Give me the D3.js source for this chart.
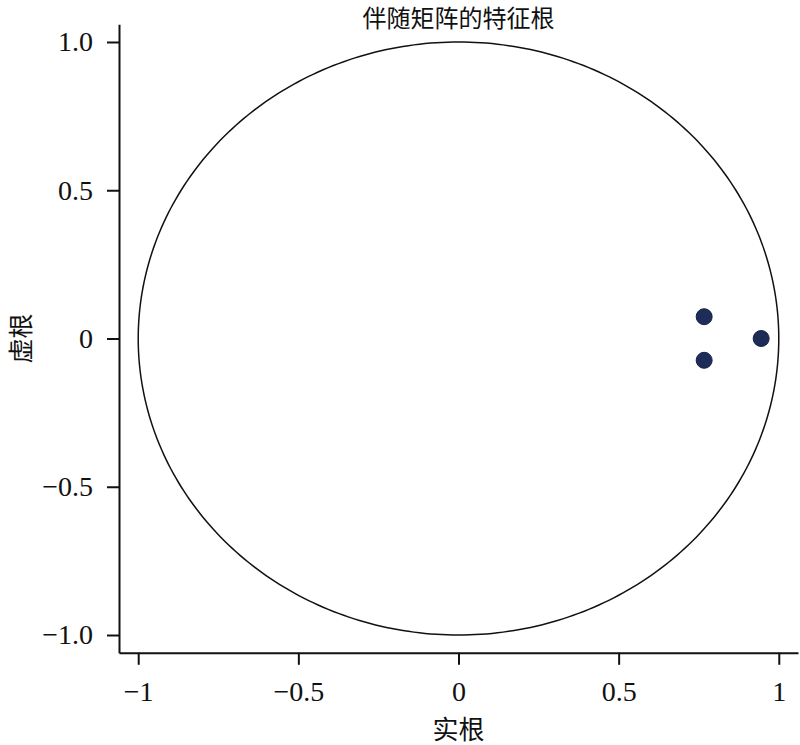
<!DOCTYPE html>
<html><head><meta charset="utf-8">
<script src="https://cdn.jsdelivr.net/npm/d3@7"></script>
<style>body{margin:0;background:#fff}</style>
</head><body>
<svg id="c" width="800" height="745"></svg>
<script>
const title = "伴随矩阵的特征根";
const xLabel = "实根";
const yLabel = "虚根";
const xTicks = [-1, -0.5, 0, 0.5, 1];
const xTickLabels = ["\u22121", "\u22120.5", "0", "0.5", "1"];
const yTicks = [1, 0.5, 0, -0.5, -1];
const yTickLabels = ["1.0", "0.5", "0", "\u22120.5", "\u22121.0"];
const realParts = [0.767, 0.767, 0.945];
const imagParts = [0.0735, -0.0735, 0];

const svg = d3.select("#c");
const x = d3.scaleLinear().domain([-1.06, 1.06]).range([119, 798]);
const y = d3.scaleLinear().domain([-1.06, 1.06]).range([652.8, 24.2]);
const serif = "'Liberation Serif','Times New Roman',serif";
const cjk = "'Noto Sans CJK SC',sans-serif";

// unit circle
const ang = d3.range(0, 361, 1).map(d => d * Math.PI / 180);
svg.append("path")
  .attr("d", d3.line().x(a => x(Math.cos(a))).y(a => y(Math.sin(a)))(ang))
  .attr("fill", "none").attr("stroke", "#111").attr("stroke-width", 1.5);

// axes
const ax = svg.append("g").attr("transform", `translate(0,${y(-1.06)})`)
  .call(d3.axisBottom(x).tickValues(xTicks).tickSizeInner(12).tickSizeOuter(0).tickPadding(16)
    .tickFormat((d, i) => xTickLabels[i]));
const ay = svg.append("g").attr("transform", `translate(${x(-1.06)},0)`)
  .call(d3.axisLeft(y).tickValues(yTicks).tickSizeInner(12).tickSizeOuter(0).tickPadding(14)
    .tickFormat((d, i) => yTickLabels[i]));
[ax, ay].forEach(g => {
  g.selectAll("path,line").attr("stroke", "#111").attr("stroke-width", 2);
  g.selectAll("text").attr("fill", "#111").style("font-family", serif).style("font-size", "28px");
});

// points
svg.selectAll("circle.pt").data(realParts).enter().append("circle")
  .attr("class", "pt")
  .attr("cx", d => x(d)).attr("cy", (d, i) => y(imagParts[i]))
  .attr("r", 8).attr("fill", "#1e2d58").attr("stroke", "#14234a").attr("stroke-width", 1);

// labels
svg.append("text").attr("x", x(0)).attr("y", 27).attr("text-anchor", "middle")
  .style("font-family", cjk).style("font-size", "24px").attr("fill", "#111").text(title);
svg.append("text").attr("x", x(0)).attr("y", 739).attr("text-anchor", "middle")
  .style("font-family", cjk).style("font-size", "26px").attr("fill", "#111").text(xLabel);
svg.append("text").attr("transform", `translate(30,${y(0)}) rotate(-90)`).attr("text-anchor", "middle")
  .style("font-family", cjk).style("font-size", "25px").attr("fill", "#111").text(yLabel);
</script>
</body></html>
